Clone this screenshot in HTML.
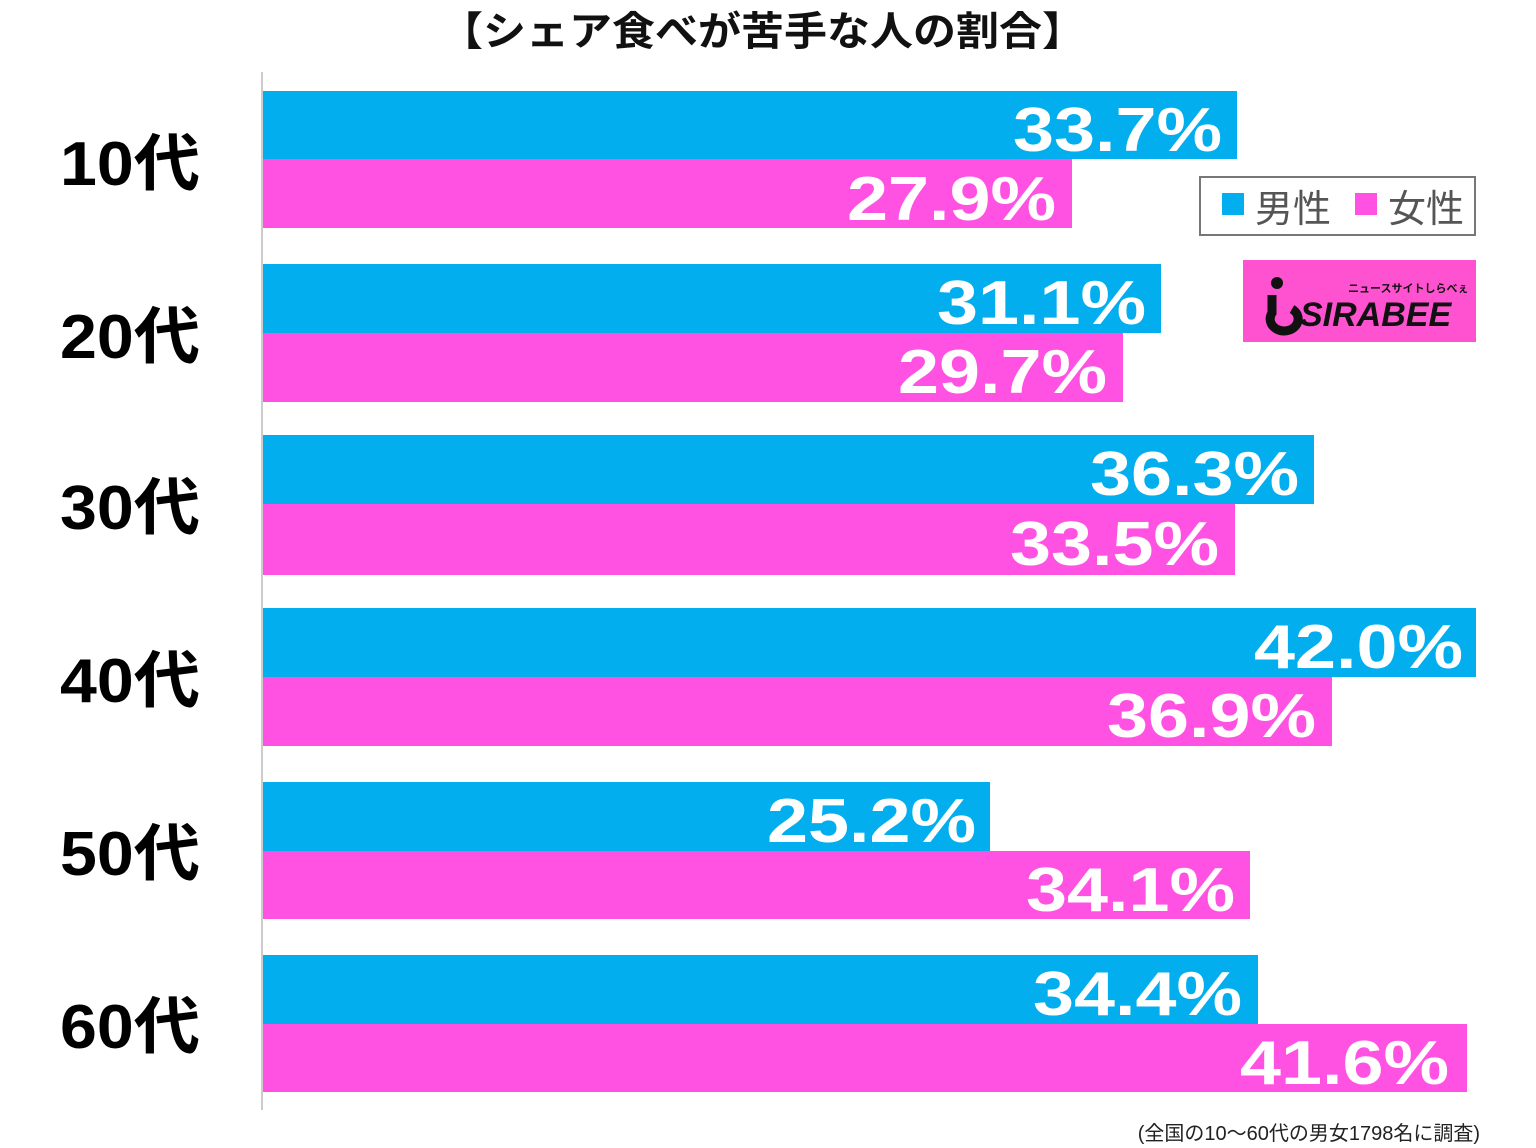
<!DOCTYPE html><html><head><meta charset="utf-8"><style>body{margin:0;background:#fff}svg{display:block}text{font-family:"Liberation Sans","Noto Sans CJK JP",sans-serif}</style></head><body>
<svg width="1536" height="1148" xmlns="http://www.w3.org/2000/svg">
<text x="440" y="45" font-size="40" font-weight="bold" fill="#111" textLength="645" lengthAdjust="spacingAndGlyphs">【シェア食べが苦手な人の割合】</text>
<line x1="262" y1="72" x2="262" y2="1110" stroke="#ccc" stroke-width="2"/>
<g font-weight="bold" fill="#000" font-size="62">
<text x="60" y="185" textLength="140" lengthAdjust="spacingAndGlyphs">10代</text><text x="60" y="358" textLength="140" lengthAdjust="spacingAndGlyphs">20代</text><text x="60" y="529" textLength="140" lengthAdjust="spacingAndGlyphs">30代</text><text x="60" y="702" textLength="140" lengthAdjust="spacingAndGlyphs">40代</text><text x="60" y="875" textLength="140" lengthAdjust="spacingAndGlyphs">50代</text><text x="60" y="1048" textLength="140" lengthAdjust="spacingAndGlyphs">60代</text></g>
<g>
<rect x="263" y="91" width="974" height="68" fill="#03aeef"/><rect x="263" y="159" width="809" height="69" fill="#ff52e2"/>
<rect x="263" y="264" width="898" height="69" fill="#03aeef"/><rect x="263" y="333" width="860" height="69" fill="#ff52e2"/>
<rect x="263" y="435" width="1051" height="69" fill="#03aeef"/><rect x="263" y="504" width="972" height="71" fill="#ff52e2"/>
<rect x="263" y="608" width="1213" height="69" fill="#03aeef"/><rect x="263" y="677" width="1069" height="69" fill="#ff52e2"/>
<rect x="263" y="782" width="727" height="69" fill="#03aeef"/><rect x="263" y="851" width="987" height="68" fill="#ff52e2"/>
<rect x="263" y="955" width="995" height="69" fill="#03aeef"/><rect x="263" y="1024" width="1204" height="68" fill="#ff52e2"/>
</g>
<g font-weight="bold" fill="#fff" font-size="62">
<text x="1013" y="151" textLength="209" lengthAdjust="spacingAndGlyphs">33.7%</text><text x="847" y="220" textLength="209" lengthAdjust="spacingAndGlyphs">27.9%</text>
<text x="937" y="324" textLength="209" lengthAdjust="spacingAndGlyphs">31.1%</text><text x="898" y="393" textLength="209" lengthAdjust="spacingAndGlyphs">29.7%</text>
<text x="1090" y="495" textLength="209" lengthAdjust="spacingAndGlyphs">36.3%</text><text x="1010" y="565" textLength="209" lengthAdjust="spacingAndGlyphs">33.5%</text>
<text x="1254" y="668" textLength="209" lengthAdjust="spacingAndGlyphs">42.0%</text><text x="1107" y="737" textLength="209" lengthAdjust="spacingAndGlyphs">36.9%</text>
<text x="767" y="842" textLength="209" lengthAdjust="spacingAndGlyphs">25.2%</text><text x="1026" y="911" textLength="209" lengthAdjust="spacingAndGlyphs">34.1%</text>
<text x="1033" y="1015" textLength="209" lengthAdjust="spacingAndGlyphs">34.4%</text><text x="1240" y="1084" textLength="209" lengthAdjust="spacingAndGlyphs">41.6%</text>
</g>
<rect x="1200" y="177" width="275" height="58" fill="#fff" stroke="#777" stroke-width="2"/>
<rect x="1222" y="193" width="22" height="22" fill="#03aeef"/>
<text x="1255" y="222" font-size="38" fill="#555">男性</text>
<rect x="1355" y="193" width="22" height="22" fill="#ff52e2"/>
<text x="1388" y="222" font-size="38" fill="#555">女性</text>
<rect x="1243" y="260" width="233" height="82" fill="#ff52d0"/>
<circle cx="1277" cy="283" r="6" fill="#111"/>
<path d="M1272 295 v18 a14 12 0 1 0 20 -4" fill="none" stroke="#111" stroke-width="9"/>
<text x="1300" y="326" font-size="34" font-weight="bold" font-style="italic" fill="#111">SIRABEE</text>
<text x="1348" y="292" font-size="11" font-weight="bold" fill="#111">ニュースサイトしらべぇ</text>
<text x="1480" y="1140" font-size="20" fill="#222" text-anchor="end">(全国の10〜60代の男女1798名に調査)</text>
</svg></body></html>
